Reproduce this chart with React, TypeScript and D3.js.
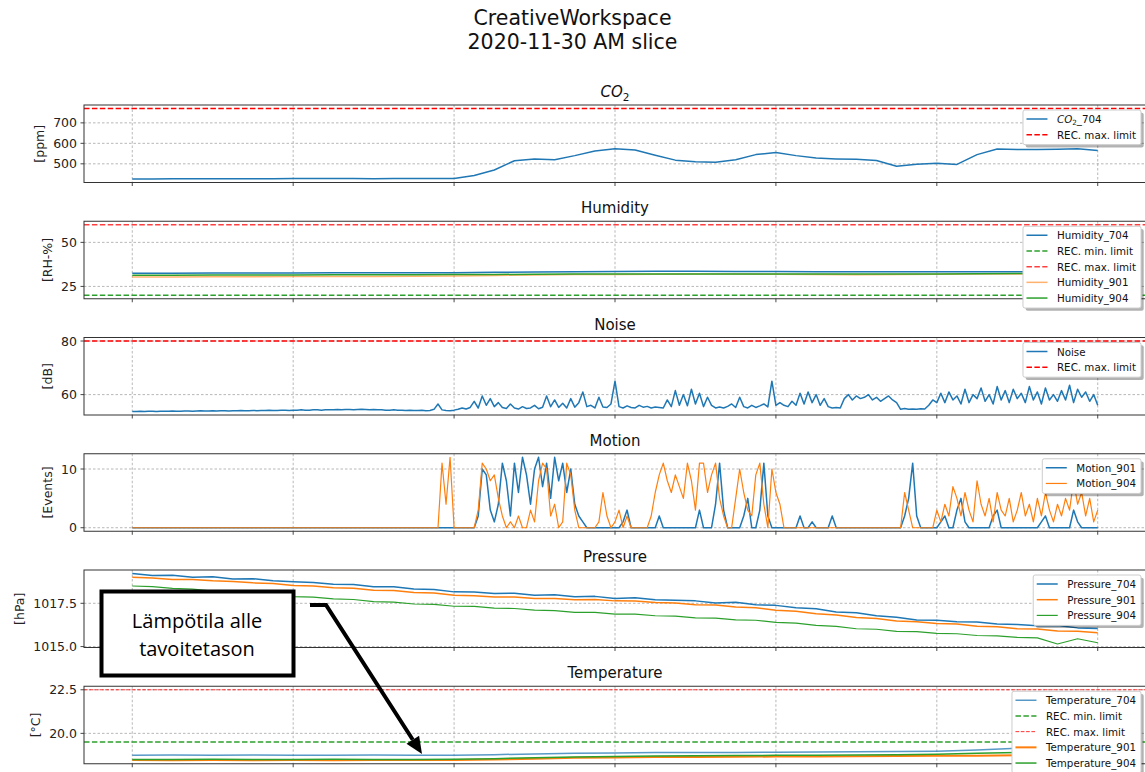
import React from 'react';
import * as d3 from 'd3';

// ---------- DATA ----------
const HOUR_TICKS = [0, 2, 4, 6, 8, 10, 12];

// CO2 (ppm), every 15 min 00:00..12:00
const CO2_704 = [
  426, 426, 427, 427, 427, 427, 427, 427, 428, 428, 428, 428, 427, 428, 428, 428,
  428, 443, 470, 515, 524, 520, 540, 563, 573, 567, 542, 518, 510, 508, 520, 545,
  555, 540, 528, 524, 522, 516, 488, 498, 503, 497, 545, 572, 570, 570, 571, 573, 565,
];
const CO2_REC_MAX = 770;
const CO2_TICKS = [500, 600, 700];

// Humidity (RH-%), every 30 min
const HUM_704 = [32.5, 32.5, 32.6, 32.6, 32.6, 32.7, 32.7, 32.8, 32.8, 33.0, 33.2, 33.3, 33.5, 33.6, 33.6, 33.5, 33.5, 33.4, 33.4, 33.3, 33.3, 33.3, 33.4, 33.4, 33.3];
const HUM_901 = [30.4, 30.4, 30.5, 30.5, 30.6, 30.6, 30.7, 30.8, 30.9, 31.2, 31.5, 31.7, 31.8, 31.9, 32.0, 32.0, 31.9, 31.7, 31.6, 31.7, 31.9, 32.0, 32.0, 32.0, 32.0];
const HUM_904 = [31.4, 31.4, 31.5, 31.5, 31.5, 31.6, 31.6, 31.6, 31.7, 31.8, 31.9, 32.0, 32.1, 32.1, 32.1, 32.1, 32.0, 32.0, 32.0, 32.0, 32.1, 32.2, 32.3, 32.3, 32.3];
const HUM_REC_MIN = 20;
const HUM_REC_MAX = 60;
const HUM_TICKS = [25, 50];

// Noise (dB), every 3 min
const NOISE = [
  53.7, 53.7, 53.8, 53.7, 53.8, 53.8, 53.7, 53.8, 53.8, 53.8,
  53.9, 53.8, 53.8, 53.9, 53.9, 53.8, 53.9, 54.0, 53.9, 53.9,
  54.0, 53.9, 54.0, 54.0, 53.9, 54.0, 54.0, 54.1, 54.0, 54.0,
  54.1, 54.0, 54.1, 54.1, 54.2, 54.1, 54.1, 54.2, 54.2, 54.1,
  54.2, 54.2, 54.3, 54.2, 54.2, 54.3, 54.3, 54.2, 54.3, 54.3,
  54.3, 54.4, 54.3, 54.4, 54.4, 54.3, 54.4, 54.5, 54.4, 54.3,
  54.4, 54.3, 54.3, 54.2, 54.2, 54.3, 54.2, 54.2, 54.1, 54.2,
  54.1, 54.1, 54.2, 54.0, 54.1, 54.5, 56.5, 54.3, 54.1, 54.0,
  54.2,
  54.5, 55.0, 54.6, 55.2, 57.5, 55.0, 59.5,
  56.0, 58.5, 55.5, 57.0, 55.2, 54.8, 56.5, 55.0,
  54.6, 55.5, 54.8, 55.0, 56.0, 54.7, 55.3, 59.5, 55.5,
  58.0, 55.2, 56.8, 55.0, 58.5, 55.3, 57.0, 61.0,
  55.5, 56.0, 55.0, 59.0, 55.4, 55.2, 56.5, 65.0,
  55.5, 55.0, 55.8, 55.2, 55.0, 56.0, 55.3, 55.6, 55.0, 55.4,
  55.2, 55.0, 58.0, 55.5, 61.5, 56.0, 60.0, 55.8, 62.0, 56.5,
  60.5, 55.5, 59.0, 56.0, 55.0, 55.4, 55.0, 55.6, 56.5, 55.2,
  59.0, 55.5, 55.0, 56.0, 55.2, 55.8, 56.5, 55.4, 65.0, 56.0,
  57.0, 56.0, 55.5, 57.5, 56.0, 60.5, 56.5, 61.0, 57.0, 60.0,
  56.0, 58.5, 55.5, 55.0, 55.2, 55.0, 58.5, 60.0, 58.0, 59.5,
  58.5, 59.0, 60.0, 58.0, 59.0, 57.5, 58.5, 59.5, 58.0, 57.0,
  54.5, 54.8, 54.5, 54.6, 54.5, 54.7, 54.6, 56.0, 58.0, 57.0,
  60.5, 57.0, 61.0, 58.0, 59.5, 56.5, 62.0, 57.0, 60.0, 58.5,
  62.5, 57.5, 60.0, 56.5, 63.0, 58.0, 61.5, 57.0, 62.0, 58.5,
  60.5, 57.0, 63.0, 58.0, 61.0, 56.5, 62.5, 58.0, 60.0, 57.5,
  61.5, 58.0, 63.5, 57.0, 62.0, 59.0, 61.0, 57.5, 60.0, 56.0,
];
const NOISE_REC_MAX = 80;
const NOISE_TICKS = [60, 80];

// Motion (events): idle (0) from 00:00, then every 3 min from 03:36 to 12:00
const MOTION_IDLE_T = 0;
const MOTION_START_H = 3.6;
const MOTION_STEP_H = 0.05;
const MOTION_901 = [
  0, 0, 0, 0, 0, 0, 0, 0, 0, 0, 0, 0, 0, 0, 2, 10, 9, 3, 1, 4,
  11, 8, 2, 11, 6, 12, 9, 4, 10, 12, 7, 11, 5, 12, 8, 11, 6, 10, 4, 2,
  1, 0, 0, 0, 0, 0, 0, 0, 0, 0, 1, 3, 0, 0, 0, 0, 0, 0, 0, 2,
  0, 0, 0, 0, 0, 0, 0, 0, 0, 3, 0, 0, 0, 4, 11, 3, 0, 0, 0, 0,
  2, 5, 0, 0, 3, 11, 2, 0, 0, 0, 0, 0, 0, 0, 2, 0, 0, 1, 0, 0,
  0, 0, 2, 0, 0, 0, 0, 0, 0, 0, 0, 0, 0, 0, 0, 0, 0, 0, 0, 0,
  2, 5, 11, 2, 0, 0, 0, 0, 0, 1, 2, 0, 0, 3, 5, 1, 0, 0, 0, 0,
  0, 0, 2, 3, 0, 0, 0, 0, 0, 0, 0, 0, 0, 0, 1, 2, 0, 0, 0, 0,
  0, 0, 3, 1, 0, 0, 0, 0, 0,
];
const MOTION_904 = [
  0, 0, 0, 0, 0, 11, 4, 12, 0, 0, 0, 0, 0, 0, 3, 11, 10, 8, 9, 5,
  2, 0, 1, 0, 2, 0, 0, 3, 1, 8, 11, 10, 2, 4, 0, 1, 11, 9, 3, 0,
  0, 0, 0, 0, 1, 6, 2, 0, 1, 3, 0, 2, 0, 0, 0, 0, 0, 2, 6, 9,
  11, 8, 6, 9, 7, 5, 11, 8, 3, 11, 11, 6, 9, 11, 5, 2, 0, 0, 5, 10,
  6, 3, 2, 9, 11, 4, 0, 10, 6, 4, 0, 0, 0, 0, 0, 0, 0, 0, 0, 0,
  0, 0, 0, 0, 0, 0, 0, 0, 0, 0, 0, 0, 0, 0, 0, 0, 0, 0, 0, 0,
  6, 3, 0, 0, 0, 0, 0, 0, 3, 1, 4, 2, 7, 5, 2, 6, 3, 1, 8, 4,
  2, 5, 1, 6, 3, 2, 5, 1, 3, 6, 2, 4, 1, 5, 2, 6, 3, 1, 4, 2,
  5, 3, 8, 4, 6, 2, 5, 1, 3,
];
const MOTION_TICKS = [0, 10];

// Pressure (hPa), every 15 min
const PRES_704 = [
  1019.22, 1019.10, 1019.12, 1019.00, 1019.04, 1018.90, 1018.92, 1018.80, 1018.74, 1018.70, 1018.60, 1018.58, 1018.45, 1018.46, 1018.33, 1018.30,
  1018.16, 1018.15, 1018.06, 1018.08, 1017.96, 1018.00, 1017.88, 1017.90, 1017.78, 1017.82, 1017.70, 1017.68, 1017.64, 1017.52, 1017.56, 1017.42,
  1017.38, 1017.24, 1017.18, 1017.00, 1016.95, 1016.78, 1016.70, 1016.54, 1016.52, 1016.44, 1016.42, 1016.30, 1016.28, 1016.20, 1016.22, 1016.08, 1016.05,
];
const PRES_901 = [
  1019.00, 1018.96, 1018.88, 1018.87, 1018.80, 1018.76, 1018.68, 1018.65, 1018.53, 1018.50, 1018.40, 1018.37, 1018.26, 1018.24, 1018.13, 1018.10,
  1017.96, 1017.94, 1017.86, 1017.86, 1017.78, 1017.78, 1017.70, 1017.72, 1017.64, 1017.63, 1017.55, 1017.52, 1017.42, 1017.40, 1017.28, 1017.24,
  1017.10, 1017.04, 1016.90, 1016.82, 1016.68, 1016.62, 1016.48, 1016.44, 1016.33, 1016.30, 1016.18, 1016.14, 1016.03, 1016.02, 1015.90, 1015.88, 1015.80,
];
const PRES_904 = [
  1018.50, 1018.46, 1018.36, 1018.32, 1018.20, 1018.17, 1018.03, 1018.00, 1017.88, 1017.86, 1017.76, 1017.72, 1017.60, 1017.57, 1017.46, 1017.44,
  1017.33, 1017.32, 1017.22, 1017.20, 1017.10, 1017.08, 1016.98, 1016.97, 1016.88, 1016.87, 1016.78, 1016.76, 1016.66, 1016.64, 1016.54, 1016.52,
  1016.40, 1016.36, 1016.23, 1016.17, 1016.03, 1016.00, 1015.88, 1015.86, 1015.76, 1015.74, 1015.64, 1015.62, 1015.53, 1015.50, 1015.15, 1015.45, 1015.22,
];
const PRES_TICKS = [1015.0, 1017.5];

// Temperature (°C), every 30 min
const TEMP_704 = [18.75, 18.76, 18.75, 18.76, 18.75, 18.75, 18.76, 18.75, 18.75, 18.78, 18.82, 18.86, 18.88, 18.90, 18.90, 18.91, 18.92, 18.93, 18.95, 18.96, 18.98, 19.05, 19.15, 19.16, 19.18];
const TEMP_901 = [18.47, 18.46, 18.48, 18.46, 18.47, 18.46, 18.48, 18.47, 18.47, 18.50, 18.55, 18.60, 18.62, 18.64, 18.65, 18.66, 18.67, 18.68, 18.69, 18.70, 18.71, 18.72, 18.74, 18.75, 18.76];
const TEMP_904 = [18.50, 18.50, 18.51, 18.50, 18.50, 18.51, 18.50, 18.50, 18.51, 18.55, 18.60, 18.65, 18.68, 18.70, 18.72, 18.73, 18.74, 18.75, 18.76, 18.78, 18.80, 18.86, 18.90, 18.91, 18.92];
const TEMP_REC_MIN = 19.5;
const TEMP_REC_MAX = 22.5;
const TEMP_TICKS = [20.0, 22.5];

// ---------- HELPERS ----------
const BLUE = '#1f77b4', ORANGE = '#ff7f0e', GREEN = '#2ca02c', RED = '#ff0000';
const FONT = 'DejaVu Sans';

type Pt = [number, number];
const onGrid = (arr: number[]): Pt[] => arr.map((v, i) => [(i * 12) / (arr.length - 1), v]);
const motionPts = (arr: number[]): Pt[] => [
  [MOTION_IDLE_T, 0] as Pt,
  ...arr.map((v, i) => [MOTION_START_H + i * MOTION_STEP_H, v] as Pt),
];

let _ctx: CanvasRenderingContext2D | null = null;
function textW(s: string, size: number, family = FONT) {
  if (!_ctx) _ctx = document.createElement('canvas').getContext('2d');
  if (!_ctx) return s.length * size * 0.6;
  _ctx.font = `${size}px "${family}"`;
  return _ctx.measureText(s).width;
}

type Series = {
  key: string;
  label: React.ReactNode;
  labelText: string;
  pts?: Pt[];
  hline?: number;
  color: string;
  width: number;
  dash?: string;
  opacity?: number;
};

type Panel = {
  title: React.ReactNode;
  ylabel: string;
  ticks: number[];
  fmt: (v: number) => string;
  series: Series[];
};

const co2Label = (
  <>
    <tspan fontStyle="italic">CO</tspan>
    <tspan fontSize="0.7em" dy="3">2</tspan>
    <tspan dy="-3">_704</tspan>
  </>
);

const PANELS: Panel[] = [
  {
    title: (
      <>
        <tspan fontStyle="italic">CO</tspan>
        <tspan fontSize="10.5" dy="4">2</tspan>
      </>
    ),
    ylabel: '[ppm]',
    ticks: CO2_TICKS,
    fmt: (v) => String(v),
    series: [
      { key: 'co2', label: co2Label, labelText: 'CO2_704', pts: onGrid(CO2_704), color: BLUE, width: 1.5 },
      { key: 'co2max', label: 'REC. max. limit', labelText: 'REC. max. limit', hline: CO2_REC_MAX, color: RED, width: 1.5, dash: '5.5,2.4' },
    ],
  },
  {
    title: 'Humidity',
    ylabel: '[RH-%]',
    ticks: HUM_TICKS,
    fmt: (v) => String(v),
    series: [
      { key: 'h704', label: 'Humidity_704', labelText: 'Humidity_704', pts: onGrid(HUM_704), color: BLUE, width: 1.5 },
      { key: 'hmin', label: 'REC. min. limit', labelText: 'REC. min. limit', hline: HUM_REC_MIN, color: GREEN, width: 1.5, dash: '5.5,2.4' },
      { key: 'hmax', label: 'REC. max. limit', labelText: 'REC. max. limit', hline: HUM_REC_MAX, color: RED, width: 1.5, dash: '5.5,2.4', opacity: 0.75 },
      { key: 'h901', label: 'Humidity_901', labelText: 'Humidity_901', pts: onGrid(HUM_901), color: ORANGE, width: 1.5, opacity: 0.6 },
      { key: 'h904', label: 'Humidity_904', labelText: 'Humidity_904', pts: onGrid(HUM_904), color: GREEN, width: 1.5 },
    ],
  },
  {
    title: 'Noise',
    ylabel: '[dB]',
    ticks: NOISE_TICKS,
    fmt: (v) => String(v),
    series: [
      { key: 'noise', label: 'Noise', labelText: 'Noise', pts: onGrid(NOISE), color: BLUE, width: 1.5 },
      { key: 'nmax', label: 'REC. max. limit', labelText: 'REC. max. limit', hline: NOISE_REC_MAX, color: RED, width: 1.5, dash: '5.5,2.4' },
    ],
  },
  {
    title: 'Motion',
    ylabel: '[Events]',
    ticks: MOTION_TICKS,
    fmt: (v) => String(v),
    series: [
      { key: 'm901', label: 'Motion_901', labelText: 'Motion_901', pts: motionPts(MOTION_901), color: BLUE, width: 1.5 },
      { key: 'm904', label: 'Motion_904', labelText: 'Motion_904', pts: motionPts(MOTION_904), color: ORANGE, width: 1.2 },
    ],
  },
  {
    title: 'Pressure',
    ylabel: '[hPa]',
    ticks: PRES_TICKS,
    fmt: (v) => v.toFixed(1),
    series: [
      { key: 'p704', label: 'Pressure_704', labelText: 'Pressure_704', pts: onGrid(PRES_704), color: BLUE, width: 1.5 },
      { key: 'p901', label: 'Pressure_901', labelText: 'Pressure_901', pts: onGrid(PRES_901), color: ORANGE, width: 1.5 },
      { key: 'p904', label: 'Pressure_904', labelText: 'Pressure_904', pts: onGrid(PRES_904), color: GREEN, width: 1.2 },
    ],
  },
  {
    title: 'Temperature',
    ylabel: '[°C]',
    ticks: TEMP_TICKS,
    fmt: (v) => v.toFixed(1),
    series: [
      { key: 't704', label: 'Temperature_704', labelText: 'Temperature_704', pts: onGrid(TEMP_704), color: BLUE, width: 1.5, opacity: 0.75 },
      { key: 'tmin', label: 'REC. min. limit', labelText: 'REC. min. limit', hline: TEMP_REC_MIN, color: GREEN, width: 1.5, dash: '5.5,2.4' },
      { key: 'tmax', label: 'REC. max. limit', labelText: 'REC. max. limit', hline: TEMP_REC_MAX, color: RED, width: 1, dash: '3.7,1.6', opacity: 0.8 },
      { key: 't901', label: 'Temperature_901', labelText: 'Temperature_901', pts: onGrid(TEMP_901), color: ORANGE, width: 2 },
      { key: 't904', label: 'Temperature_904', labelText: 'Temperature_904', pts: onGrid(TEMP_904), color: GREEN, width: 1.5 },
    ],
  },
];

// ---------- LAYOUT ----------
const W = 1145, H = 772;
const AX_L = 84, AX_R = 1146;
const TOP0 = 105, STEP = 116.25, AX_H = 77.5;
const TICK_FS = 12.5, LEG_FS = 10.3, TITLE_FS = 15;

export default function App() {
  const x = d3.scaleLinear().domain([-0.6, 12.6]).range([AX_L, AX_R]);

  const panels = PANELS.map((p, i) => {
    const top = TOP0 + i * STEP;
    const bottom = top + AX_H;
    const vals: number[] = [];
    p.series.forEach((s) => {
      if (s.hline !== undefined) vals.push(s.hline);
      else s.pts!.forEach((d) => vals.push(d[1]));
    });
    const mn = d3.min(vals)!, mx = d3.max(vals)!;
    const pad = (mx - mn) * 0.05;
    const y = d3.scaleLinear().domain([mn - pad, mx + pad]).range([bottom, top]);
    const line = d3.line<Pt>().x((d) => x(d[0])).y((d) => y(d[1]));
    const clipId = `clip${i}`;
    const maxTickW = d3.max(p.ticks.map((t) => textW(p.fmt(t), TICK_FS)))!;
    const ylabX = AX_L - 7 - maxTickW - 14;

    // legend geometry
    const textWs = p.series.map((s) => textW(s.labelText, LEG_FS));
    const legW = 3.5 + 21 + 9.5 + d3.max(textWs)! + 5;
    const legR = AX_R - 5;
    const legL = legR - legW;
    const legT = top + 5;
    const rowH = 15.7;
    const legH = 9 + (p.series.length - 1) * rowH + 10;

    return (
      <g key={i}>
        <defs>
          <clipPath id={clipId}>
            <rect x={AX_L} y={top} width={AX_R - AX_L} height={AX_H} />
          </clipPath>
        </defs>
        {HOUR_TICKS.map((t) => (
          <line key={'vg' + t} x1={x(t)} x2={x(t)} y1={top} y2={bottom} stroke="#9a9a9a" strokeWidth={0.7} strokeDasharray="2.5,2" />
        ))}
        {p.ticks.map((t) => (
          <line key={'hg' + t} x1={AX_L} x2={AX_R} y1={y(t)} y2={y(t)} stroke="#9a9a9a" strokeWidth={0.7} strokeDasharray="2.5,2" />
        ))}
        <g clipPath={`url(#${clipId})`}>
          {p.series.map((s) =>
            s.hline !== undefined ? (
              <line key={s.key} x1={AX_L} x2={AX_R} y1={y(s.hline)} y2={y(s.hline)} stroke={s.color} strokeWidth={s.width} strokeDasharray={s.dash} opacity={s.opacity ?? 1} />
            ) : (
              <path key={s.key} d={line(s.pts!) || ''} fill="none" stroke={s.color} strokeWidth={s.width} strokeDasharray={s.dash} opacity={s.opacity ?? 1} strokeLinejoin="round" />
            )
          )}
        </g>
        <rect x={AX_L} y={top} width={AX_R - AX_L} height={AX_H} fill="none" stroke="#333" strokeWidth={1} />
        {p.ticks.map((t) => (
          <g key={'yt' + t}>
            <line x1={AX_L - 3.5} x2={AX_L} y1={y(t)} y2={y(t)} stroke="#333" strokeWidth={0.9} />
            <text x={AX_L - 7} y={y(t)} textAnchor="end" dominantBaseline="central" fontSize={TICK_FS} fill="#222">
              {p.fmt(t)}
            </text>
          </g>
        ))}
        {HOUR_TICKS.map((t) => (
          <line key={'xt' + t} x1={x(t)} x2={x(t)} y1={bottom} y2={bottom + 3.5} stroke="#333" strokeWidth={0.9} />
        ))}
        <text transform={`translate(${ylabX},${(top + bottom) / 2}) rotate(-90)`} textAnchor="middle" dominantBaseline="central" fontSize={TICK_FS} fill="#222">
          {p.ylabel}
        </text>
        <text x={(AX_L + AX_R) / 2} y={top - 8} textAnchor="middle" fontSize={TITLE_FS} fill="#111">
          {p.title}
        </text>
        <g>
          <rect x={legL + 2.7} y={legT + 2.7} width={legW} height={legH} rx={2} fill="#000" opacity={0.3} />
          <rect x={legL} y={legT} width={legW} height={legH} rx={2} fill="#fff" stroke="#ccc" strokeWidth={1} />
          {p.series.map((s, k) => {
            const cy = legT + 9 + k * rowH;
            return (
              <g key={'lg' + s.key}>
                <line x1={legL + 3.5} x2={legL + 24.5} y1={cy} y2={cy} stroke={s.color} strokeWidth={s.width} strokeDasharray={s.dash} opacity={s.opacity ?? 1} />
                <text x={legL + 34} y={cy} dominantBaseline="central" fontSize={LEG_FS} fill="#111">
                  {s.label}
                </text>
              </g>
            );
          })}
        </g>
      </g>
    );
  });

  const tip: Pt = [422, 754];
  const from: Pt = [326, 605];
  const dx = tip[0] - from[0], dy = tip[1] - from[1];
  const len = Math.hypot(dx, dy);
  const ux = dx / len, uy = dy / len;
  const hl = 17, hw = 7.5;
  const base: Pt = [tip[0] - ux * hl, tip[1] - uy * hl];
  const c1: Pt = [base[0] - uy * hw, base[1] + ux * hw];
  const c2: Pt = [base[0] + uy * hw, base[1] - ux * hw];

  return (
    <div style={{ position: 'absolute', left: 0, top: 0 }}>
      <svg width={W} height={H} style={{ display: 'block', background: '#fff', fontFamily: `"${FONT}", sans-serif` }}>
        <text x={W / 2} y={25} textAnchor="middle" fontSize={20.5} fill="#111">CreativeWorkspace</text>
        <text x={W / 2} y={48.5} textAnchor="middle" fontSize={20.5} fill="#111">2020-11-30 AM slice</text>
        {panels}
        <rect x={101.5} y={591.5} width={192} height={84} fill="#fff" stroke="#000" strokeWidth={4} />
        <text x={197} y={620} textAnchor="middle" dominantBaseline="central" fontSize={20} fontFamily='"Open Sans", sans-serif' fill="#000">Lämpötila alle</text>
        <text x={197} y={648} textAnchor="middle" dominantBaseline="central" fontSize={20} fontFamily='"Open Sans", sans-serif' fill="#000">tavoitetason</text>
        <polyline points={`310,605 ${from[0]},${from[1]} ${base[0]},${base[1]}`} fill="none" stroke="#000" strokeWidth={4} />
        <polygon points={`${tip[0]},${tip[1]} ${c1[0]},${c1[1]} ${c2[0]},${c2[1]}`} fill="#000" />
      </svg>
    </div>
  );
}
